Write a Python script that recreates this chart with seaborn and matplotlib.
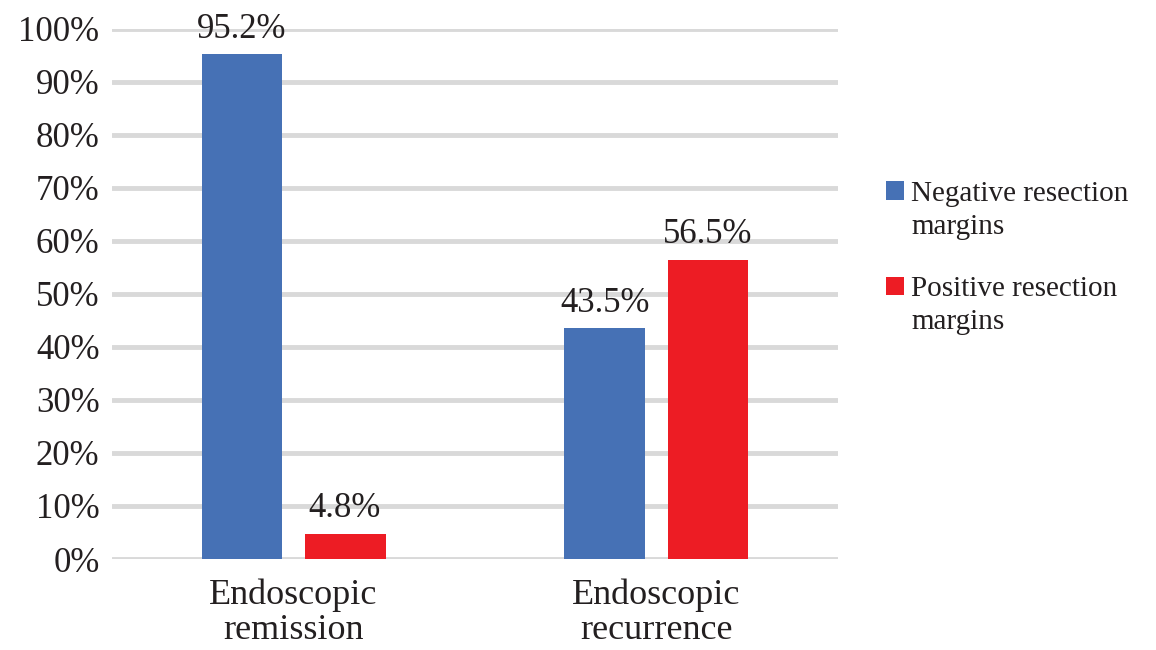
import matplotlib
matplotlib.use("Agg")
import matplotlib.pyplot as plt
from matplotlib.patches import Rectangle
from matplotlib.legend_handler import HandlerPatch
import seaborn as sns
import pandas as pd

categories = ["Endoscopic\nremission", "Endoscopic\nrecurrence"]
series_names = ["Negative resection\nmargins", "Positive resection\nmargins"]
negative = [95.2, 43.5]
positive = [4.8, 56.5]
y_ticks = [0, 10, 20, 30, 40, 50, 60, 70, 80, 90, 100]
colors = ["#4671b5", "#ed1c24"]

df = pd.DataFrame({
    "category": categories * 2,
    "margin": [series_names[0]] * 2 + [series_names[1]] * 2,
    "value": negative + positive,
})

sns.set_theme(style="white")
plt.rcParams["font.family"] = ["Liberation Serif", "DejaVu Serif"]

text_color = "#231f20"
fig = plt.figure(figsize=(11.56, 6.5), dpi=100)
ax = fig.add_axes([0.0969, 0.14, 0.628, 0.8154])

sns.barplot(data=df, x="category", y="value", hue="margin",
            palette=colors, width=0.568, gap=0.215, ax=ax,
            saturation=1, legend=True, linewidth=0, zorder=3)

ax.set_xlim(-0.5, 1.5)
ax.set_ylim(0, 100)
ax.set_yticks(y_ticks)
ax.set_yticklabels([f"{t}%" for t in y_ticks], fontsize=25, color=text_color)
ax.tick_params(axis="y", length=0, pad=9)
ax.tick_params(axis="x", length=0, pad=14, labelsize=26, labelcolor=text_color)
for lbl in ax.get_xticklabels():
    lbl.set_linespacing(1.1)
ax.set_xlabel("")
ax.set_ylabel("")
for s in ax.spines.values():
    s.set_visible(False)
ax.grid(axis="y", color="#d9d9d9", linewidth=3.5, zorder=0)
ax.set_axisbelow(True)

for cont in ax.containers:
    ax.bar_label(cont, labels=[f"{v:.1f}%" for v in cont.datavalues],
                 padding=6, fontsize=25, color=text_color, clip_on=False)


# square legend keys sitting beside the first line of each two-line label
def first_line_square(legend, orig_handle, xdescent, ydescent, width, height, fontsize):
    lift = fontsize * 0.68
    return Rectangle((-xdescent, -ydescent + lift), width, height)


handles, labels = ax.get_legend_handles_labels()
ax.legend_.remove()
leg = fig.legend(handles, labels, loc="upper left",
                 bbox_to_anchor=(0.744, 0.762), frameon=False,
                 fontsize=21, handlelength=0.6, handleheight=0.6,
                 handletextpad=0.25, labelspacing=1.25, alignment="left",
                 handler_map={matplotlib.patches.Rectangle:
                              HandlerPatch(patch_func=first_line_square)})
for t in leg.get_texts():
    t.set_color(text_color)
    t.set_linespacing(1.35)

fig.savefig("out.png", dpi=100, facecolor="white")
